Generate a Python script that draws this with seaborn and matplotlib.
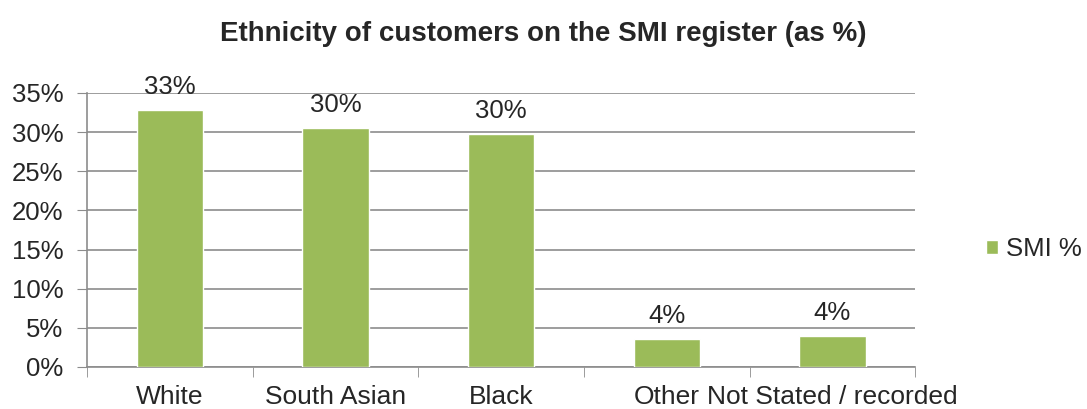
import pandas as pd
import matplotlib
matplotlib.use("Agg")
import matplotlib.pyplot as plt
import seaborn as sns
from matplotlib.ticker import PercentFormatter, FixedLocator

# dados
categories = ["White", "South Asian", "Black", "Other", "Not Stated / recorded"]
smi_values = [0.328, 0.305, 0.297, 0.036, 0.040]
series_name = "SMI %"

df = pd.DataFrame({"ethnicity": categories, "value": smi_values, "series": series_name})

sns.set_style("white")
plt.rcParams["font.family"] = ["Liberation Sans", "DejaVu Sans"]

green = "#9BBB59"
grid_grey = "#8C8C8C"
fs = 18.5

fig = plt.figure(figsize=(10.87, 4.09), dpi=100)
ax = fig.add_axes([0.080, 0.1027, 0.762, 0.670])

sns.barplot(data=df, x="ethnicity", y="value", hue="series", palette=[green],
            width=0.4, dodge=False, saturation=1, ax=ax, zorder=3)

# rótulos de dados
labels = [f"{v:.0%}" for v in smi_values]
ax.bar_label(ax.containers[0], labels=labels, padding=8, fontsize=fs)

ax.set_ylim(0, 0.35)
ax.set_xlim(-0.5, len(categories) - 0.5)
ax.yaxis.set_major_locator(FixedLocator([i * 0.05 for i in range(8)]))
ax.yaxis.set_major_formatter(PercentFormatter(1.0, decimals=0))
ax.grid(axis="y", color=grid_grey, linewidth=1.2, zorder=0)
ax.set_axisbelow(True)

# ticks do eixo x nas fronteiras das categorias
ax.set_xticks(range(len(categories)))
ax.set_xticklabels(categories)
ax.set_xticks([i - 0.5 for i in range(len(categories) + 1)], minor=True)
ax.tick_params(axis="x", which="major", length=0, pad=13, labelsize=19)
ax.tick_params(axis="x", which="minor", length=7, color=grid_grey, direction="out", bottom=True)
ax.tick_params(axis="y", length=7, color=grid_grey, direction="out", left=True, labelsize=fs, pad=10)

for s in ["top", "right"]:
    ax.spines[s].set_visible(False)
for s in ["left", "bottom"]:
    ax.spines[s].set_color(grid_grey)
    ax.spines[s].set_linewidth(1.2)

ax.set_xlabel("")
ax.set_ylabel("")

leg = ax.legend(loc="center left", bbox_to_anchor=(1.057, 0.43), frameon=False,
                fontsize=fs, handlelength=0.5, handleheight=0.5, handletextpad=0.3)

fig.text(0.5, 0.918, "Ethnicity of customers on the SMI register (as %)",
         ha="center", va="center", fontsize=20, fontweight="bold")

fig.savefig("out.png", dpi=100)
